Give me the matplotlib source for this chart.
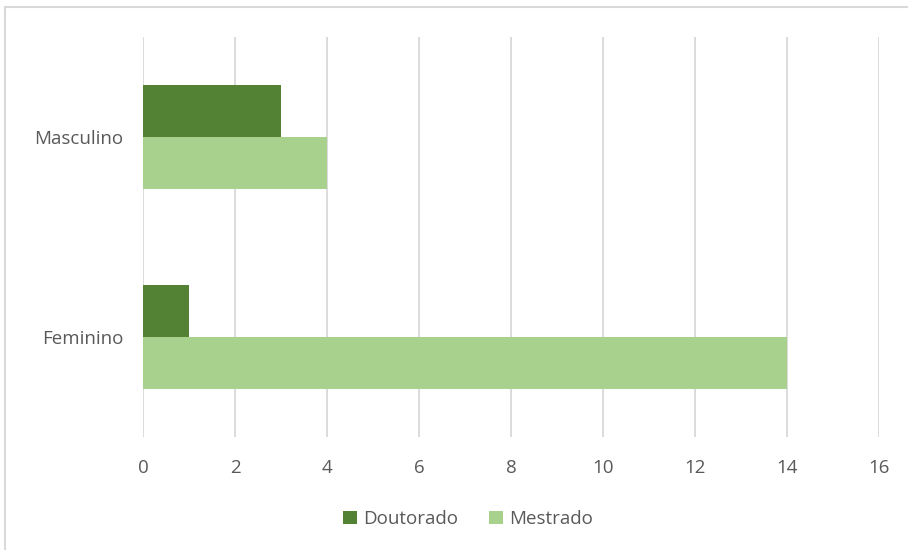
import numpy as np
import matplotlib.pyplot as plt
from matplotlib.patches import Rectangle

categories = ['Feminino', 'Masculino']
doutorado = [1, 3]
mestrado = [14, 4]
x_ticks = [0, 2, 4, 6, 8, 10, 12, 14, 16]

plt.rcParams['font.family'] = ['Open Sans', 'DejaVu Sans']

W, H = 908, 550
fig = plt.figure(figsize=(W / 100, H / 100), dpi=100)
ax = fig.add_axes([143 / W, 1 - 437 / H, (879 - 143) / W, 400 / H])

y = np.arange(len(categories))
h = 0.26
ax.barh(y + h / 2, doutorado, height=h, color='#548235', label='Doutorado', zorder=3)
ax.barh(y - h / 2, mestrado, height=h, color='#A9D18E', label='Mestrado', zorder=3)

ax.set_xlim(0, 16)
ax.set_ylim(-0.5, 1.5)
ax.set_xticks(x_ticks)
ax.set_yticks(y)
ax.set_yticklabels(categories)
ax.grid(axis='x', color='#d9d9d9', linewidth=1.3, zorder=0)
for s in ax.spines.values():
    s.set_visible(False)
ax.tick_params(length=0, labelsize=13.5, labelcolor='#595959')
ax.tick_params(axis='x', pad=16)
ax.tick_params(axis='y', pad=14)

ax.legend(loc='center', bbox_to_anchor=(468 / W, 1 - 519 / H), bbox_transform=fig.transFigure,
          ncol=2, frameon=False, fontsize=13.5, handlelength=0.75, handleheight=0.75,
          handletextpad=0.35, columnspacing=1.6, labelcolor='#595959')

fig.patches.append(Rectangle((5 / W, -0.1), 1.1, 1.1 - 7 / H, transform=fig.transFigure,
                             fill=False, edgecolor='#d9d9d9', linewidth=1.5))

fig.savefig('out.png', dpi=100)
